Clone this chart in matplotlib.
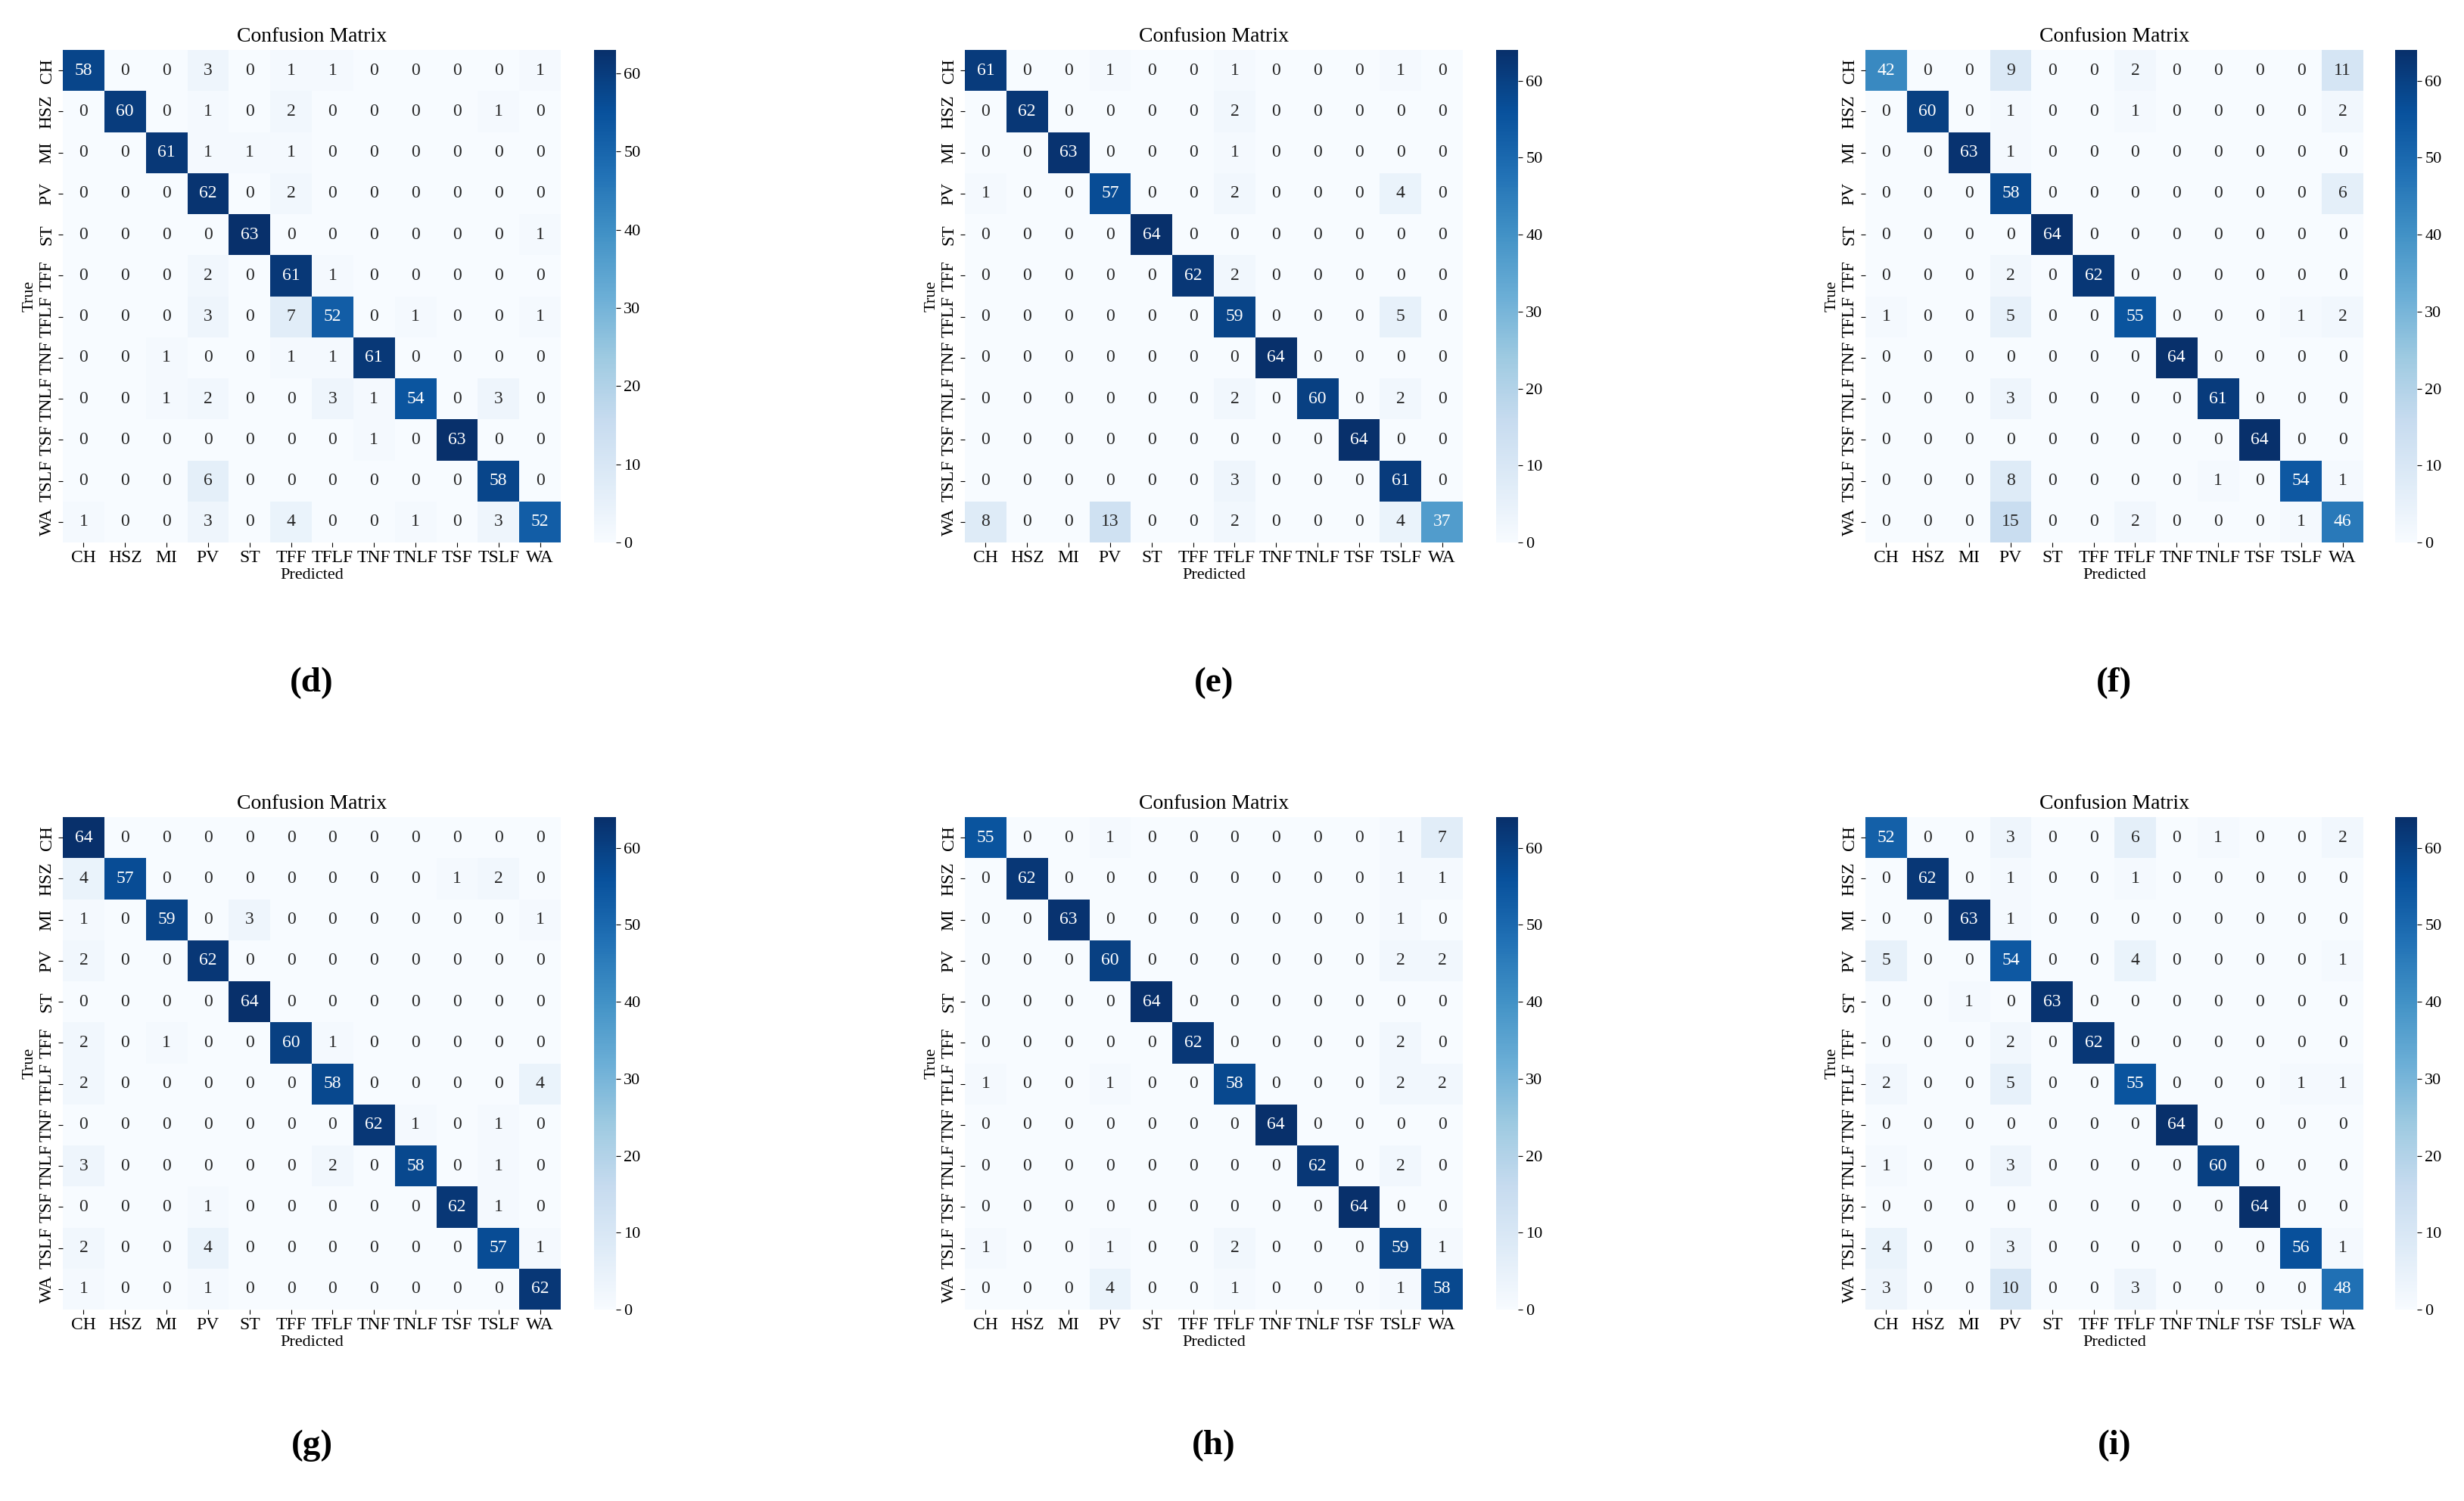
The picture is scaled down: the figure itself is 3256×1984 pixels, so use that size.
import numpy as np
import matplotlib
matplotlib.use("Agg")
import matplotlib.pyplot as plt
import seaborn as sns

plt.rcParams['font.family'] = ['Liberation Serif', 'DejaVu Serif']

classes = ["CH", "HSZ", "MI", "PV", "ST", "TFF", "TFLF", "TNF", "TNLF", "TSF", "TSLF", "WA"]

cm_d = [
    [58, 0, 0, 3, 0, 1, 1, 0, 0, 0, 0, 1],
    [0, 60, 0, 1, 0, 2, 0, 0, 0, 0, 1, 0],
    [0, 0, 61, 1, 1, 1, 0, 0, 0, 0, 0, 0],
    [0, 0, 0, 62, 0, 2, 0, 0, 0, 0, 0, 0],
    [0, 0, 0, 0, 63, 0, 0, 0, 0, 0, 0, 1],
    [0, 0, 0, 2, 0, 61, 1, 0, 0, 0, 0, 0],
    [0, 0, 0, 3, 0, 7, 52, 0, 1, 0, 0, 1],
    [0, 0, 1, 0, 0, 1, 1, 61, 0, 0, 0, 0],
    [0, 0, 1, 2, 0, 0, 3, 1, 54, 0, 3, 0],
    [0, 0, 0, 0, 0, 0, 0, 1, 0, 63, 0, 0],
    [0, 0, 0, 6, 0, 0, 0, 0, 0, 0, 58, 0],
    [1, 0, 0, 3, 0, 4, 0, 0, 1, 0, 3, 52],
]
cm_e = [
    [61, 0, 0, 1, 0, 0, 1, 0, 0, 0, 1, 0],
    [0, 62, 0, 0, 0, 0, 2, 0, 0, 0, 0, 0],
    [0, 0, 63, 0, 0, 0, 1, 0, 0, 0, 0, 0],
    [1, 0, 0, 57, 0, 0, 2, 0, 0, 0, 4, 0],
    [0, 0, 0, 0, 64, 0, 0, 0, 0, 0, 0, 0],
    [0, 0, 0, 0, 0, 62, 2, 0, 0, 0, 0, 0],
    [0, 0, 0, 0, 0, 0, 59, 0, 0, 0, 5, 0],
    [0, 0, 0, 0, 0, 0, 0, 64, 0, 0, 0, 0],
    [0, 0, 0, 0, 0, 0, 2, 0, 60, 0, 2, 0],
    [0, 0, 0, 0, 0, 0, 0, 0, 0, 64, 0, 0],
    [0, 0, 0, 0, 0, 0, 3, 0, 0, 0, 61, 0],
    [8, 0, 0, 13, 0, 0, 2, 0, 0, 0, 4, 37],
]
cm_f = [
    [42, 0, 0, 9, 0, 0, 2, 0, 0, 0, 0, 11],
    [0, 60, 0, 1, 0, 0, 1, 0, 0, 0, 0, 2],
    [0, 0, 63, 1, 0, 0, 0, 0, 0, 0, 0, 0],
    [0, 0, 0, 58, 0, 0, 0, 0, 0, 0, 0, 6],
    [0, 0, 0, 0, 64, 0, 0, 0, 0, 0, 0, 0],
    [0, 0, 0, 2, 0, 62, 0, 0, 0, 0, 0, 0],
    [1, 0, 0, 5, 0, 0, 55, 0, 0, 0, 1, 2],
    [0, 0, 0, 0, 0, 0, 0, 64, 0, 0, 0, 0],
    [0, 0, 0, 3, 0, 0, 0, 0, 61, 0, 0, 0],
    [0, 0, 0, 0, 0, 0, 0, 0, 0, 64, 0, 0],
    [0, 0, 0, 8, 0, 0, 0, 0, 1, 0, 54, 1],
    [0, 0, 0, 15, 0, 0, 2, 0, 0, 0, 1, 46],
]
cm_g = [
    [64, 0, 0, 0, 0, 0, 0, 0, 0, 0, 0, 0],
    [4, 57, 0, 0, 0, 0, 0, 0, 0, 1, 2, 0],
    [1, 0, 59, 0, 3, 0, 0, 0, 0, 0, 0, 1],
    [2, 0, 0, 62, 0, 0, 0, 0, 0, 0, 0, 0],
    [0, 0, 0, 0, 64, 0, 0, 0, 0, 0, 0, 0],
    [2, 0, 1, 0, 0, 60, 1, 0, 0, 0, 0, 0],
    [2, 0, 0, 0, 0, 0, 58, 0, 0, 0, 0, 4],
    [0, 0, 0, 0, 0, 0, 0, 62, 1, 0, 1, 0],
    [3, 0, 0, 0, 0, 0, 2, 0, 58, 0, 1, 0],
    [0, 0, 0, 1, 0, 0, 0, 0, 0, 62, 1, 0],
    [2, 0, 0, 4, 0, 0, 0, 0, 0, 0, 57, 1],
    [1, 0, 0, 1, 0, 0, 0, 0, 0, 0, 0, 62],
]
cm_h = [
    [55, 0, 0, 1, 0, 0, 0, 0, 0, 0, 1, 7],
    [0, 62, 0, 0, 0, 0, 0, 0, 0, 0, 1, 1],
    [0, 0, 63, 0, 0, 0, 0, 0, 0, 0, 1, 0],
    [0, 0, 0, 60, 0, 0, 0, 0, 0, 0, 2, 2],
    [0, 0, 0, 0, 64, 0, 0, 0, 0, 0, 0, 0],
    [0, 0, 0, 0, 0, 62, 0, 0, 0, 0, 2, 0],
    [1, 0, 0, 1, 0, 0, 58, 0, 0, 0, 2, 2],
    [0, 0, 0, 0, 0, 0, 0, 64, 0, 0, 0, 0],
    [0, 0, 0, 0, 0, 0, 0, 0, 62, 0, 2, 0],
    [0, 0, 0, 0, 0, 0, 0, 0, 0, 64, 0, 0],
    [1, 0, 0, 1, 0, 0, 2, 0, 0, 0, 59, 1],
    [0, 0, 0, 4, 0, 0, 1, 0, 0, 0, 1, 58],
]
cm_i = [
    [52, 0, 0, 3, 0, 0, 6, 0, 1, 0, 0, 2],
    [0, 62, 0, 1, 0, 0, 1, 0, 0, 0, 0, 0],
    [0, 0, 63, 1, 0, 0, 0, 0, 0, 0, 0, 0],
    [5, 0, 0, 54, 0, 0, 4, 0, 0, 0, 0, 1],
    [0, 0, 1, 0, 63, 0, 0, 0, 0, 0, 0, 0],
    [0, 0, 0, 2, 0, 62, 0, 0, 0, 0, 0, 0],
    [2, 0, 0, 5, 0, 0, 55, 0, 0, 0, 1, 1],
    [0, 0, 0, 0, 0, 0, 0, 64, 0, 0, 0, 0],
    [1, 0, 0, 3, 0, 0, 0, 0, 60, 0, 0, 0],
    [0, 0, 0, 0, 0, 0, 0, 0, 0, 64, 0, 0],
    [4, 0, 0, 3, 0, 0, 0, 0, 0, 0, 56, 1],
    [3, 0, 0, 10, 0, 0, 3, 0, 0, 0, 0, 48],
]
panel_labels = ["(d)", "(e)", "(f)", "(g)", "(h)", "(i)"]
matrices = [cm_d, cm_e, cm_f, cm_g, cm_h, cm_i]

W, H = 3256, 1984
fig = plt.figure(figsize=(W / 100, H / 100), dpi=100)

hm_x = [83, 1275, 2465]
cb_x = [785, 1977, 3165]
hm_y = [66, 1080]   # top pixel
hm_w, hm_h = 658, 651
cb_w = 29
lab_y = [903, 1911]

def ax_rect(x, y, w, h):
    return [x / W, 1 - (y + h) / H, w / W, h / H]

for k, (cm, lab) in enumerate(zip(matrices, panel_labels)):
    r, c = divmod(k, 3)
    ax = fig.add_axes(ax_rect(hm_x[c], hm_y[r], hm_w, hm_h))
    cax = fig.add_axes(ax_rect(cb_x[c], hm_y[r], cb_w, hm_h))
    data = np.array(cm)
    sns.heatmap(data, annot=True, fmt="d", cmap="Blues", ax=ax, cbar_ax=cax,
                xticklabels=classes, yticklabels=classes,
                annot_kws={"fontsize": 17})
    ax.set_title("Confusion Matrix", fontsize=20, pad=8)
    ax.set_xlabel("Predicted", fontsize=16, labelpad=2)
    ax.set_ylabel("True", fontsize=16, labelpad=2)
    ax.tick_params(axis="x", labelsize=17, rotation=0, length=4)
    ax.tick_params(axis="y", labelsize=17, rotation=90, length=4)
    for t in ax.get_yticklabels():
        t.set_va("center")
    cax.tick_params(labelsize=16, length=4)
    cax.yaxis.set_ticks(np.arange(0, 61, 10))
    cx = (hm_x[c] + hm_w / 2) / W
    fig.text(cx, 1 - lab_y[r] / H, lab, ha="center", va="center",
             fontsize=34, fontweight="bold")

fig.savefig("out.png", dpi=100, facecolor="white")
